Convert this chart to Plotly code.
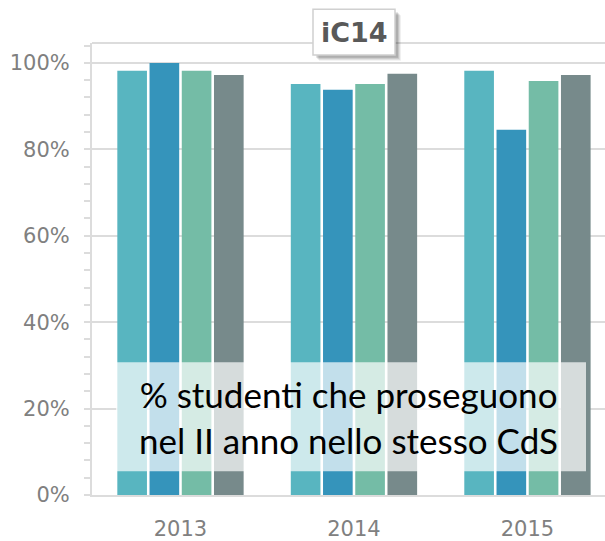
import plotly.graph_objects as go

years = ["2013", "2014", "2015"]
serie_a = [98.2, 95.1, 98.2]
serie_b = [100.0, 93.8, 84.5]
serie_c = [98.2, 95.1, 95.8]
serie_d = [97.2, 97.5, 97.2]
series_names = ["Serie A", "Serie B", "Serie C", "Serie D"]
colors = ["#58b5c0", "#3594bb", "#74bca6", "#778a8b"]
y_ticks = [0, 20, 40, 60, 80, 100]
y_tick_text = [f"{v}%" for v in y_ticks]
title_text = "iC14"
note_lines = ["% studenti che proseguono", "nel II anno nello stesso CdS"]

W, H = 605, 541
L, R, T, B = 92, 0, 43, 42
pw = W - L - R
ph = H - T - B

def px_x(v):
    return (v - L) / pw

def px_y(v):
    return (H - B - v) / ph

fig = go.Figure()
for name, vals, col in zip(series_names, [serie_a, serie_b, serie_c, serie_d], colors):
    fig.add_trace(go.Bar(x=years, y=vals, name=name, marker=dict(color=col, line=dict(width=0))))

grid_col = "#dcdcdc"
tick_font = dict(family="DejaVu Sans", size=21, color="#808080")

fig.update_layout(
    width=W, height=H,
    margin=dict(l=L, r=R, t=T, b=B, pad=0),
    paper_bgcolor="white", plot_bgcolor="white",
    barmode="group", bargap=0.257, bargroupgap=0.08,
    showlegend=False,
    xaxis=dict(
        type="category", range=[-0.51, 2.447],
        showline=True, linecolor=grid_col, linewidth=2,
        showgrid=False, ticks="", tickfont=tick_font,
        ticklabelstandoff=14,
    ),
    yaxis=dict(
        range=[0, 104.6], tickvals=y_ticks, ticktext=y_tick_text,
        showline=True, linecolor=grid_col, linewidth=2,
        showgrid=True, gridcolor=grid_col, gridwidth=2,
        zeroline=False,
        ticks="outside", ticklen=6, tickcolor=grid_col, tickwidth=2,
        tickfont=tick_font, ticklabelstandoff=10,
        minor=dict(dtick=4, ticks="outside", ticklen=6, tickcolor=grid_col, tickwidth=2, showgrid=False),
    ),
)

shapes = []
shapes.append(dict(type="line", xref="paper", yref="paper", x0=0, x1=1, y0=1, y1=1,
                   line=dict(color=grid_col, width=2), layer="above"))
shapes.append(dict(type="rect", xref="paper", yref="paper",
                   x0=px_x(116), x1=px_x(586), y0=px_y(475), y1=px_y(365),
                   fillcolor="rgba(255,255,255,0.7)", line=dict(width=0), layer="above"))
for off, op in [(6, 0.06), (5, 0.08), (4, 0.1), (3, 0.12)]:
    shapes.append(dict(type="rect", xref="paper", yref="paper",
                       x0=px_x(313 + off), x1=px_x(395 + off), y0=px_y(55 + off), y1=px_y(9 + off),
                       fillcolor=f"rgba(0,0,0,{op})", line=dict(width=0), layer="above"))
shapes.append(dict(type="rect", xref="paper", yref="paper",
                   x0=px_x(313), x1=px_x(395), y0=px_y(55), y1=px_y(9),
                   fillcolor="white", line=dict(color="#d0d0d0", width=1.5), layer="above"))
fig.update_layout(shapes=shapes)

fig.add_annotation(xref="paper", yref="paper", x=px_x(354), y=px_y(32),
                   xanchor="center", yanchor="middle",
                   text=f"<b>{title_text}</b>", showarrow=False,
                   font=dict(family="DejaVu Sans", size=27, color="#595959"))
fig.add_annotation(xref="paper", yref="paper", x=px_x(348), y=px_y(420),
                   xanchor="center", yanchor="middle",
                   text="<br>".join(note_lines), showarrow=False, align="center",
                   font=dict(family="Lato", size=35, color="black"))

fig.write_html("out.html", config={"displayModeBar": False},
               post_script="document.body.style.margin='0';")
